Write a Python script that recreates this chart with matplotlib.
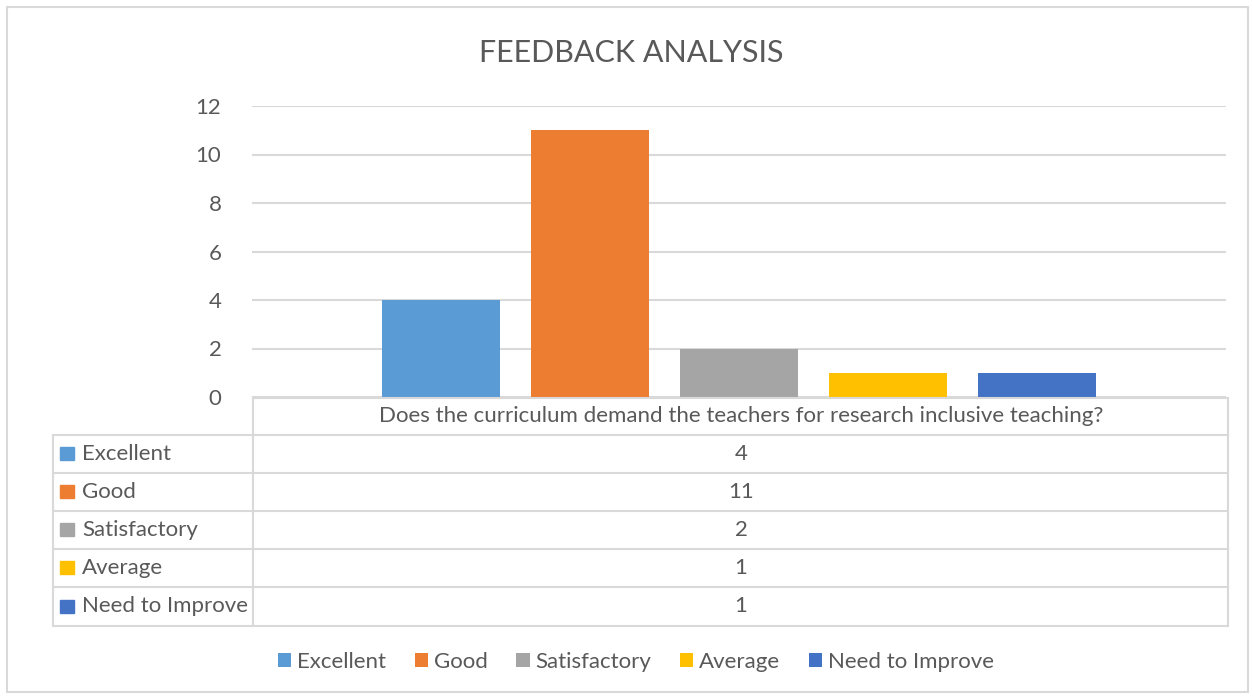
import matplotlib
matplotlib.use("Agg")
import matplotlib.pyplot as plt
from matplotlib.patches import Rectangle
from matplotlib.lines import Line2D

series = ["Excellent", "Good", "Satisfactory", "Average", "Need to Improve"]
values = [4, 11, 2, 1, 1]
colors = ["#5B9BD5", "#ED7D31", "#A5A5A5", "#FFC000", "#4472C4"]
category = "Does the curriculum demand the teachers for research inclusive teaching?"
yticks = [0, 2, 4, 6, 8, 10, 12]
title = "FEEDBACK ANALYSIS"

W, H = 1253, 698
plt.rcParams['font.family'] = ['Lato', 'DejaVu Sans']
TXT = "#595959"
GRID = "#D9D9D9"
FS = 16

fig = plt.figure(figsize=(W / 100, H / 100), dpi=100)

def fx(px):
    return px / W

def fy(py):
    return 1 - py / H

# outer border
fig.add_artist(Rectangle((fx(7), fy(692)), fx(1248) - fx(7), fy(7) - fy(692),
                         transform=fig.transFigure, fill=False, edgecolor=GRID, lw=1.5))

# plot area
pl, pr, pt, pb = 252, 1226, 106, 397
ax = fig.add_axes([fx(pl), fy(pb), fx(pr) - fx(pl), fy(pt) - fy(pb)])
ax.set_xlim(-0.5, 0.5)
ax.set_ylim(0, 12)
step = 149 / (pr - pl)
bw = 118 / (pr - pl)
for i, (s, v, c) in enumerate(zip(series, values, colors)):
    ax.bar((i - 2) * step, v, width=bw, color=c, label=s, zorder=3)
ax.set_yticks(yticks)
ax.yaxis.grid(True, color=GRID, lw=1.5, zorder=0)
ax.set_xticks([])
for sp in ax.spines.values():
    sp.set_visible(False)
ax.tick_params(axis='y', length=0, pad=22, labelsize=FS, labelcolor=TXT)

fig.text(fx(631), fy(53), title, ha='center', va='center', fontsize=22, color=TXT,
         fontweight='normal')

# data table
tl, tm, tr = 53, 253, 1228
rows_y = [398, 435, 473, 511, 549, 587, 626]
lw = 1.5
fig.add_artist(Line2D([fx(tm), fx(tr)], [fy(398), fy(398)], color=GRID, lw=lw))
for y in rows_y[1:]:
    fig.add_artist(Line2D([fx(tl), fx(tr)], [fy(y), fy(y)], color=GRID, lw=lw))
fig.add_artist(Line2D([fx(tm), fx(tm)], [fy(398), fy(626)], color=GRID, lw=lw))
fig.add_artist(Line2D([fx(tr), fx(tr)], [fy(398), fy(626)], color=GRID, lw=lw))
fig.add_artist(Line2D([fx(tl), fx(tl)], [fy(435), fy(626)], color=GRID, lw=lw))
fig.text(fx(741), fy(416), category, ha='center', va='center',
         fontsize=FS, color=TXT)
for i, (s, v, c) in enumerate(zip(series, values, colors)):
    yc = (rows_y[i + 1] + rows_y[i + 2]) / 2
    fig.add_artist(Rectangle((fx(60), fy(yc + 6)), fx(14) - fx(0), fy(0) - fy(13),
                             transform=fig.transFigure, color=c))
    fig.text(fx(82), fy(yc), s, ha='left', va='center', fontsize=FS, color=TXT)
    fig.text(fx(741), fy(yc), str(v), ha='center', va='center',
             fontsize=FS, color=TXT)

handles, labels = ax.get_legend_handles_labels()
leg = fig.legend(handles, labels, loc='center', bbox_to_anchor=(fx(636), fy(662)),
                 ncol=5, frameon=False, fontsize=FS, handlelength=0.6, handleheight=0.6,
                 handletextpad=0.25, columnspacing=1.3, labelcolor=TXT)

fig.savefig("out.png", dpi=100)
